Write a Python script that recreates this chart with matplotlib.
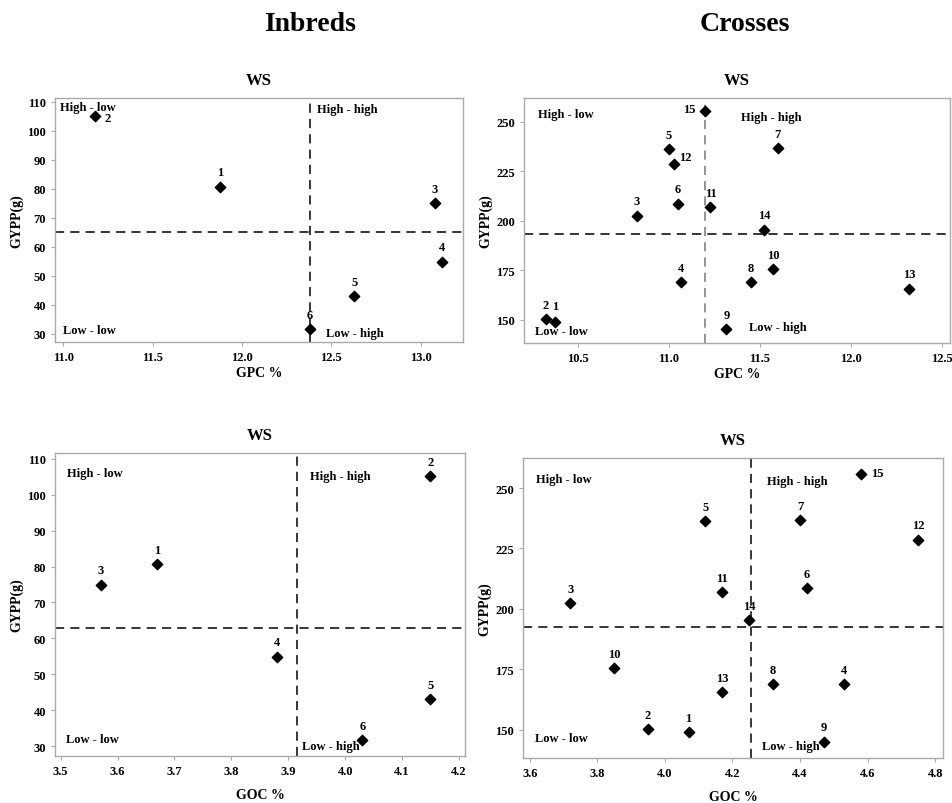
import matplotlib
matplotlib.use('Agg')
import matplotlib.pyplot as plt

plt.rcParams['font.family'] = ['Liberation Serif', 'DejaVu Serif']
plt.rcParams['font.weight'] = 'bold'

# Inbreds - GPC vs GYPP
inb_ids = ['1', '2', '3', '4', '5', '6']
inb_gpc = [11.88, 11.18, 13.08, 13.12, 12.63, 12.38]
inb_gypp = [80.7, 105.2, 75.0, 54.9, 43.1, 31.7]
inb_gpc_mean = 12.38
inb_gypp_mean_gpc = 65.0

# Inbreds - GOC vs GYPP
inb_goc = [3.67, 4.15, 3.57, 3.88, 4.15, 4.03]
inb_goc_mean = 3.916
inb_gypp_mean_goc = 63.0

# Crosses
cr_ids = [str(i) for i in range(1, 16)]
cr_gpc = [10.375, 10.326, 10.824, 11.07, 11.0, 11.05, 11.60, 11.45, 11.317,
          11.576, 11.23, 11.03, 12.32, 11.526, 11.20]
cr_gypp = [149.0, 150.3, 202.5, 168.9, 236.2, 208.7, 236.6, 168.9, 145.1,
           175.4, 206.9, 228.6, 165.7, 195.5, 255.7]
cr_goc = [4.07, 3.95, 3.72, 4.53, 4.12, 4.42, 4.40, 4.32, 4.47,
          3.85, 4.17, 4.75, 4.17, 4.25, 4.58]
cr_gpc_mean = 11.20
cr_gypp_mean_gpc = 193.3
cr_goc_mean = 4.256
cr_gypp_mean_goc = 192.4

fig = plt.figure(figsize=(9.53, 8.04), dpi=100)

fig.text(0.325, 0.970, 'Inbreds', ha='center', va='center', fontsize=20, fontweight='bold')
fig.text(0.782, 0.970, 'Crosses', ha='center', va='center', fontsize=20, fontweight='bold')

panels = [
    dict(rect=[0.0577, 0.5734, 0.4281, 0.3035], x=inb_gpc, y=inb_gypp, ids=inb_ids,
         vx=inb_gpc_mean, hy=inb_gypp_mean_gpc, xlim=(10.954, 13.237), ylim=(27.2, 111.3),
         xticks=[11.0, 11.5, 12.0, 12.5, 13.0], yticks=range(30, 111, 10), xlabel='GPC %',
         xpad=2, vcolor='black', special={'2': (9, -2)},
         quad=[(0.012, 0.962, 'High - low'), (0.643, 0.955, 'High - high'),
               (0.019, 0.048, 'Low - low'), (0.665, 0.038, 'Low - high')]),
    dict(rect=[0.5498, 0.5721, 0.4470, 0.3047], x=cr_gpc, y=cr_gypp, ids=cr_ids,
         vx=cr_gpc_mean, hy=cr_gypp_mean_gpc, xlim=(10.205, 12.546), ylim=(138.2, 262.0),
         xticks=[10.5, 11.0, 11.5, 12.0, 12.5], yticks=[150, 175, 200, 225, 250], xlabel='GPC %',
         xpad=2, vcolor='#777777', special={'15': (-11, 1), '12': (8, 5), '1': (0, 7)},
         quad=[(0.032, 0.935, 'High - low'), (0.509, 0.921, 'High - high'),
               (0.026, 0.048, 'Low - low'), (0.529, 0.067, 'Low - high')]),
    dict(rect=[0.0577, 0.0585, 0.4302, 0.3769], x=inb_goc, y=inb_gypp, ids=inb_ids,
         vx=inb_goc_mean, hy=inb_gypp_mean_goc, xlim=(3.490, 4.2106), ylim=(27.3, 111.6),
         xticks=[3.5, 3.6, 3.7, 3.8, 3.9, 4.0, 4.1, 4.2], yticks=range(30, 111, 10), xlabel='GOC %',
         xpad=8, vcolor='black', special={},
         quad=[(0.030, 0.934, 'High - low'), (0.623, 0.924, 'High - high'),
               (0.028, 0.057, 'Low - low'), (0.602, 0.033, 'Low - high')]),
    dict(rect=[0.5488, 0.0560, 0.4407, 0.3731], x=cr_goc, y=cr_gypp, ids=cr_ids,
         vx=cr_goc_mean, hy=cr_gypp_mean_goc, xlim=(3.580, 4.823), ylim=(138.4, 262.4),
         xticks=[3.6, 3.8, 4.0, 4.2, 4.4, 4.6, 4.8], yticks=[150, 175, 200, 225, 250], xlabel='GOC %',
         xpad=8, vcolor='black', special={'15': (12, 1)},
         quad=[(0.032, 0.930, 'High - low'), (0.580, 0.922, 'High - high'),
               (0.028, 0.066, 'Low - low'), (0.570, 0.041, 'Low - high')]),
]

for p in panels:
    ax = fig.add_axes(p['rect'])
    ax.scatter(p['x'], p['y'], marker='D', s=28, color='black', zorder=3)
    for xi, yi, lab in zip(p['x'], p['y'], p['ids']):
        off = p['special'].get(lab, (0, 6))
        va = 'bottom' if off[0] == 0 else 'center'
        ax.annotate(lab, (xi, yi), xytext=off, textcoords='offset points',
                    ha='center', va=va, fontsize=9, fontweight='bold')
    ax.axvline(p['vx'], color=p['vcolor'], ls=(0, (6, 4)), lw=1.1, zorder=1)
    ax.axhline(p['hy'], color='black', ls=(0, (6, 4)), lw=1.1, zorder=1)
    for qx, qy, qt in p['quad']:
        ax.text(qx, qy, qt, transform=ax.transAxes, ha='left', va='center',
                fontsize=9, fontweight='bold')
    ax.set_xlim(p['xlim'])
    ax.set_ylim(p['ylim'])
    ax.set_xticks(p['xticks'])
    ax.set_xticklabels(['%.1f' % t for t in p['xticks']])
    ax.set_yticks(list(p['yticks']))
    ax.tick_params(labelsize=9, length=3, color='#aaaaaa', width=0.8)
    for lbl in ax.get_xticklabels() + ax.get_yticklabels():
        lbl.set_fontweight('bold')
    for s in ax.spines.values():
        s.set_color('#aaaaaa')
        s.set_linewidth(1.0)
    ax.set_xlabel(p['xlabel'], fontsize=10, fontweight='bold', labelpad=p['xpad'])
    ax.set_ylabel('GYPP(g)', fontsize=10, fontweight='bold', labelpad=3)
    ax.set_title('WS', fontsize=12, fontweight='bold', pad=10)

fig.savefig('out.png', dpi=100)
